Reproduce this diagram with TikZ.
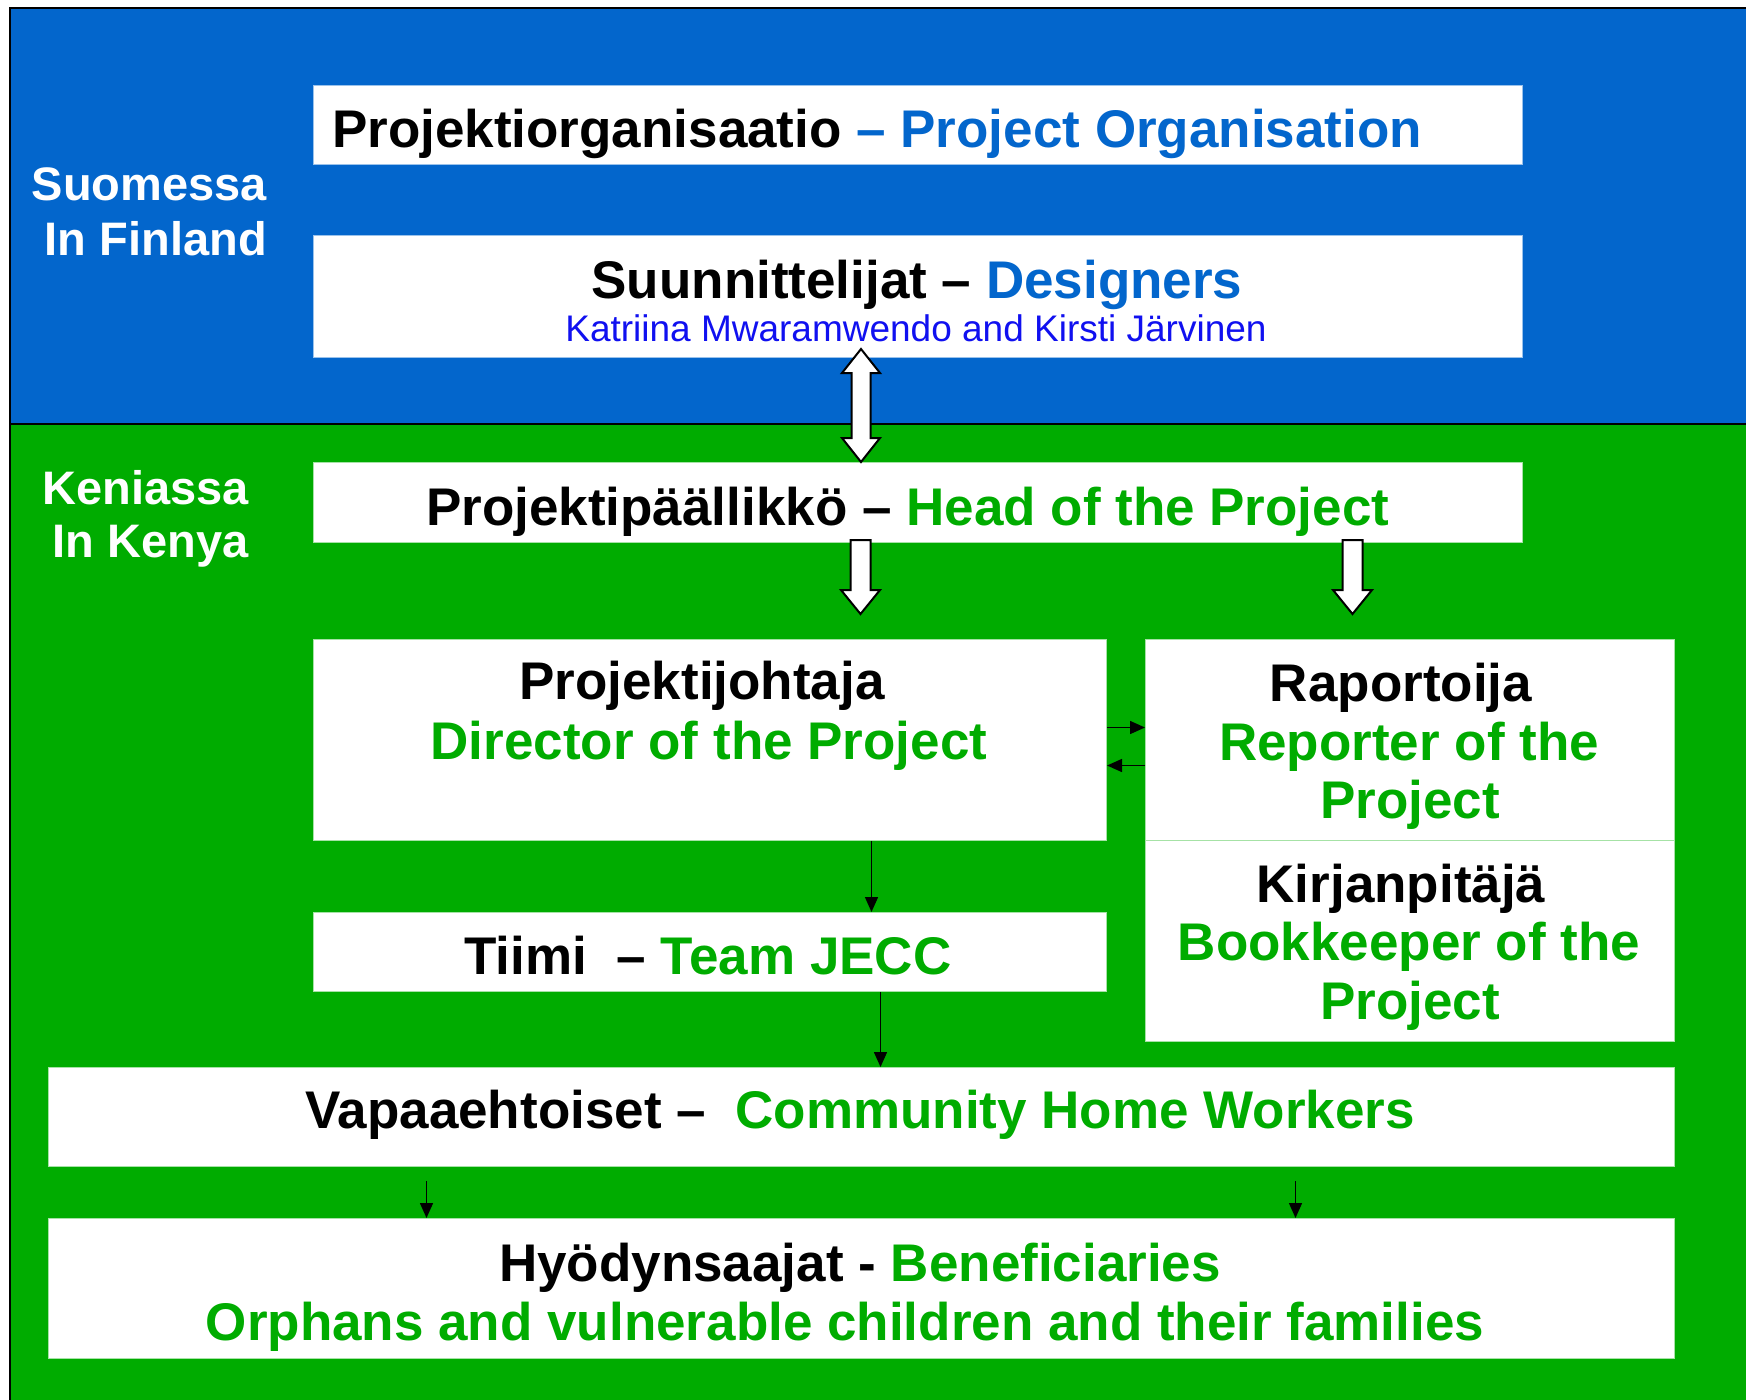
\documentclass[tikz,border=0pt]{standalone}
\usepackage{fontspec}
\setmainfont{Liberation Sans}
\usetikzlibrary{calc,arrows.meta}
\definecolor{fiblue}{RGB}{3,102,204}
\definecolor{kegreen}{RGB}{0,172,0}
\definecolor{txtblue}{RGB}{16,16,240}
\newcommand{\dgBig}{\fontsize{53}{60}\selectfont\bfseries}
\newcommand{\dgSide}{\fontsize{47}{55}\selectfont\bfseries}
\newcommand{\dgSmall}{\fontsize{37}{44}\selectfont}
\tikzset{
  bluebox/.style={draw=fiblue!40!white, line width=1pt, fill=white, inner sep=0pt, anchor=north west},
  greenbox/.style={draw=kegreen!35!white, line width=1pt, fill=white, inner sep=0pt, anchor=north west},
  txt/.style={inner sep=0pt, anchor=base},
  sidelbl/.style={inner sep=0pt, anchor=base east, text=white},
  blockarrow/.style={draw=black, fill=white, line width=2pt, line join=miter},
  thinarrow/.style={draw=black, line width=1.5pt, -{Triangle[length=15pt,width=13pt]}}
}
\begin{document}
\begin{tikzpicture}[x=1pt,y=-1pt]
\useasboundingbox (0,0) rectangle (1746,1400);
\clip (0,0) rectangle (1746,1400);
\fill[white] (0,0) rectangle (1746,1400);
% regions
\draw[line width=2pt, fill=fiblue] (10,8) rectangle (1780,424);
\draw[line width=2pt, fill=kegreen] (10,424) rectangle (1780,1430);

% side labels
\node[sidelbl] (suo) at (267,200) {\dgSide Suomessa};
\node[sidelbl] (fin) at (267,255) {\dgSide In Finland};
\node[sidelbl] (ken) at (249,504) {\dgSide Keniassa};
\node[sidelbl] (kny) at (249,557) {\dgSide In Kenya};

% boxes
\node[bluebox, minimum width=1209pt, minimum height=79pt] (org) at (313,85) {};
\node[bluebox, minimum width=1209pt, minimum height=122pt] (desig) at (313,235) {};
\node[greenbox, minimum width=1209pt, minimum height=80pt] (head) at (313,462) {};
\node[greenbox, minimum width=793pt, minimum height=201pt] (pjoht) at (313,639) {};
\node[greenbox, minimum width=529pt, minimum height=201pt] (rap) at (1145,639) {};
\node[greenbox, minimum width=529pt, minimum height=201pt] (kir) at (1145,840) {};
\node[greenbox, minimum width=793pt, minimum height=79pt] (tiimi) at (313,912) {};
\node[greenbox, minimum width=1626pt, minimum height=99pt] (vap) at (48,1067) {};
\node[greenbox, minimum width=1626pt, minimum height=140pt] (hyod) at (48,1218) {};

% texts
\node[txt, anchor=base west] (torg) at (332,147) {\dgBig Projektiorganisaatio \textcolor{fiblue}{– Project Organisation}};
\node[txt] (tdes) at (917,298) {\dgBig Suunnittelijat – \textcolor{fiblue}{Designers}};
\node[txt, text=txtblue] (tnames) at (916,341) {\dgSmall Katriina Mwaramwendo and Kirsti Järvinen};
\node[txt, anchor=base west] (thead) at (426,525) {\dgBig Projektipäällikkö – \textcolor{kegreen}{Head of the Project}};
\node[txt] (tpj1) at (702,699) {\dgBig Projektijohtaja};
\node[txt, text=kegreen] (tpj2) at (709,759) {\dgBig Director of the Project};
\node[txt] (trap1) at (1401,701) {\dgBig Raportoija};
\node[txt, text=kegreen] (trap2) at (1409,760) {\dgBig Reporter of the};
\node[txt, text=kegreen] (trap3) at (1410,818) {\dgBig Project};
\node[txt] (tkir1) at (1401,902) {\dgBig Kirjanpitäjä};
\node[txt, text=kegreen] (tkir2) at (1409,960) {\dgBig Bookkeeper of the};
\node[txt, text=kegreen] (tkir3) at (1410,1019) {\dgBig Project};
\node[txt] (ttiimi) at (708,974) {\dgBig Tiimi\ \ – \textcolor{kegreen}{Team JECC}};
\node[txt] (tvap) at (860,1128) {\dgBig Vapaaehtoiset –\ \ \textcolor{kegreen}{Community Home Workers}};
\node[txt] (thyod1) at (860,1281) {\dgBig Hyödynsaajat - \textcolor{kegreen}{Beneficiaries}};
\node[txt, text=kegreen] (thyod2) at (845,1340) {\dgBig Orphans and vulnerable children and their families};

% double block arrow designers <-> head
\coordinate (dT) at ($(desig.south)+(-57,-9)$);
\coordinate (dB) at ($(head.north)+(-57,0)$);
\draw[blockarrow] (dT) -- ($(dT)+(19,24)$) -- ($(dT)+(9.5,24)$) -- ($(dB)+(9.5,-24)$) -- ($(dB)+(19,-24)$) -- (dB)
  -- ($(dB)+(-19,-24)$) -- ($(dB)+(-9.5,-24)$) -- ($(dT)+(-9.5,24)$) -- ($(dT)+(-19,24)$) -- cycle;

% down block arrows from head
\coordinate (aT) at ($(head.south)+(-57.5,-3)$);
\coordinate (aB) at ($(pjoht.north)+(150.5,-25)$);
\draw[blockarrow] ($(aT)+(-10,0)$) -- ($(aB)+(-10,-24)$) -- ($(aB)+(-19.5,-24)$) -- (aB) -- ($(aB)+(19.5,-24)$) -- ($(aB)+(10,-24)$) -- ($(aT)+(10,0)$) -- cycle;
\coordinate (bT) at ($(head.south)+(434.5,-3)$);
\coordinate (bB) at ($(rap.north)+(-57.5,-25)$);
\draw[blockarrow] ($(bT)+(-10,0)$) -- ($(bB)+(-10,-24)$) -- ($(bB)+(-19.5,-24)$) -- (bB) -- ($(bB)+(19.5,-24)$) -- ($(bB)+(10,-24)$) -- ($(bT)+(10,0)$) -- cycle;

% thin arrows
\draw[thinarrow] ($(pjoht.east)+(0,-12.5)$) -- ($(rap.west)+(0,-12.5)$);
\draw[thinarrow] ($(rap.west)+(0,25.5)$) -- ($(pjoht.east)+(0,25.5)$);
\draw[thinarrow] ($(pjoht.south)+(161.5,0)$) -- ($(tiimi.north)+(161.5,0)$);
\draw[thinarrow] ($(tiimi.south)+(170.5,0)$) -- ($(vap.north)+(19,0)$);
\draw[thinarrow] ($(vap.south)+(-435,14)$) -- ($(hyod.north)+(-435,0)$);
\draw[thinarrow] ($(vap.south)+(434,14)$) -- ($(hyod.north)+(434,0)$);
\end{tikzpicture}
\end{document}
